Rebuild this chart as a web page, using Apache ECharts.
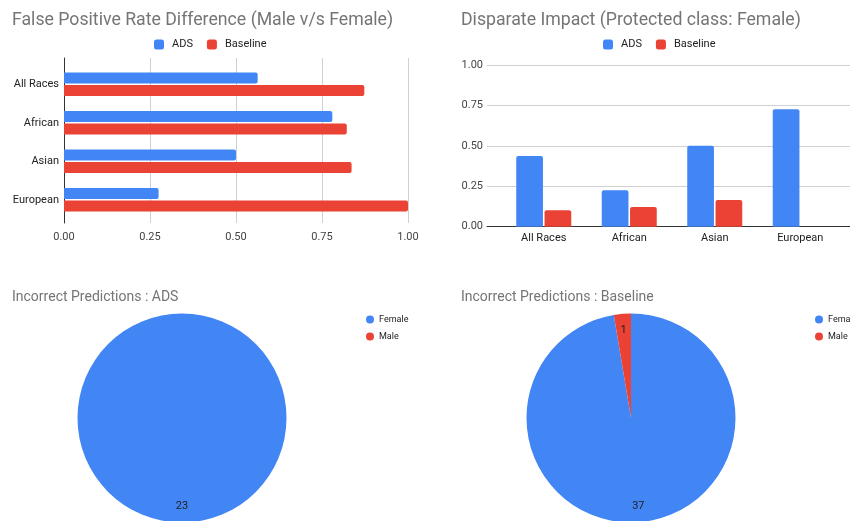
<!DOCTYPE html>
<html>
<head>
<meta charset="utf-8">
<script src="https://cdn.jsdelivr.net/npm/echarts@6/dist/echarts.min.js"></script>
<style>html,body{margin:0;padding:0;background:#fff}#c{width:850px;height:521px}</style>
</head>
<body>
<div id="c"></div>
<script>
const categories = ['All Races', 'African', 'Asian', 'European'];
const fprADS = [0.563, 0.78, 0.5, 0.275];
const fprBaseline = [0.873, 0.822, 0.836, 1.0];
const diADS = [0.437, 0.225, 0.501, 0.726];
const diBaseline = [0.101, 0.122, 0.165, 0];
const pieNames = ['Female', 'Male'];
const adsIncorrect = [23, 0];
const baselineIncorrect = [37, 1];
const valueMin = 0, valueMax = 1, valueStep = 0.25;

const BLUE = '#4285F4', RED = '#EA4335';
const FONT = 'Roboto';
const chart = echarts.init(document.getElementById('c'), null, {renderer: 'canvas'});

const tickLabel = {formatter: v => v.toFixed(2), color: '#444', fontSize: 11, fontFamily: FONT};
const gridLine = {lineStyle: {color: '#d0d0d0', width: 1}};
const darkLine = {show: true, onZero: false, lineStyle: {color: '#333', width: 1}};
const catLabel = {color: '#222', fontSize: 11, fontFamily: FONT};

function pieData(vals) { return pieNames.map((n, i) => ({name: n, value: vals[i]})); }
function pieLabelSeries(vals, cx) {
  return {
    type: 'pie', center: [cx, 418], radius: [66.5, 104.5], startAngle: 90, clockwise: true,
    silent: true, legendHoverLink: false,
    itemStyle: {color: 'rgba(0,0,0,0)'},
    label: {show: true, position: 'inside', color: '#222', fontSize: 11, fontFamily: FONT,
      formatter: p => p.value ? String(p.value) : ''},
    labelLine: {show: false}, emphasis: {disabled: true},
    data: pieData(vals)
  };
}
function pieMain(vals, cx) {
  return {
    type: 'pie', center: [cx, 418], radius: 104.5, startAngle: 90, clockwise: true,
    label: {show: false}, labelLine: {show: false},
    itemStyle: {borderWidth: 0},
    data: pieData(vals)
  };
}
const titleStyle = (size) => ({fontSize: size, fontWeight: 'normal', color: '#757575', fontFamily: FONT});
const barLegend = (left) => ({data: ['ADS', 'Baseline'], left: left, top: 39, padding: 0,
  itemWidth: 10, itemHeight: 10, itemGap: 14, icon: 'roundRect', selectedMode: false,
  textStyle: {fontSize: 11, color: '#222', fontFamily: FONT, padding: [0, 0, 0, 3]}});
const pieLegend = (left) => ({data: pieNames, orient: 'vertical', left: left, top: 315, padding: 0,
  itemWidth: 8, itemHeight: 8, itemGap: 8, icon: 'circle', selectedMode: false,
  textStyle: {fontSize: 9, color: '#222', fontFamily: FONT}});

const option = {
  animation: false,
  color: [BLUE, RED],
  textStyle: {fontFamily: FONT},
  title: [
    {text: 'False Positive Rate Difference (Male v/s Female)', left: 12, top: 12, padding: 0, textStyle: titleStyle(17.7)},
    {text: 'Disparate Impact (Protected class: Female)', left: 461, top: 12, padding: 0, textStyle: titleStyle(17.7)},
    {text: 'Incorrect Predictions : ADS', left: 12, top: 290, padding: 0, textStyle: titleStyle(14)},
    {text: 'Incorrect Predictions : Baseline', left: 461, top: 290, padding: 0, textStyle: titleStyle(14)}
  ],
  legend: [barLegend(154), barLegend(603), pieLegend(366), pieLegend(815)],
  grid: [
    {left: 64, top: 65, width: 344, height: 154},      // 0: FPR bars
    {left: 501, top: 65, right: 7, height: 161.7},     // 1: DI bars
    {left: 64, top: 58, width: 344, height: 165},      // 2: FPR gridlines / axis
    {left: 487, top: 65, right: 0, height: 161.7}      // 3: DI gridlines / axis
  ],
  xAxis: [
    {type: 'value', gridIndex: 0, min: valueMin, max: valueMax, interval: valueStep, show: false},
    {type: 'category', gridIndex: 1, data: categories, axisTick: {show: false}, axisLine: {show: false},
      axisLabel: Object.assign({margin: 6}, catLabel)},
    {type: 'value', gridIndex: 2, min: valueMin, max: valueMax, interval: valueStep,
      axisLine: {show: false}, axisTick: {show: false}, splitLine: gridLine,
      axisLabel: Object.assign({margin: 9}, tickLabel)},
    {type: 'value', gridIndex: 3, min: valueMin, max: valueMax, interval: valueStep,
      axisLine: darkLine, axisTick: {show: false}, splitLine: {show: false}, axisLabel: {show: false}}
  ],
  yAxis: [
    {type: 'category', gridIndex: 0, data: categories, inverse: true, axisTick: {show: false}, axisLine: {show: false},
      axisLabel: Object.assign({margin: 5}, catLabel)},
    {type: 'value', gridIndex: 1, min: valueMin, max: valueMax, interval: valueStep, show: false},
    {type: 'value', gridIndex: 2, min: valueMin, max: valueMax, interval: valueStep,
      axisLine: darkLine, axisTick: {show: false}, splitLine: {show: false}, axisLabel: {show: false}},
    {type: 'value', gridIndex: 3, min: valueMin, max: valueMax, interval: valueStep,
      axisLine: {show: false}, axisTick: {show: false}, splitLine: gridLine,
      axisLabel: Object.assign({margin: 4}, tickLabel)}
  ],
  series: [
    {name: 'ADS', type: 'bar', xAxisIndex: 0, yAxisIndex: 0, data: fprADS, barWidth: 11, barGap: '15%', z: 3,
      itemStyle: {color: BLUE, borderRadius: [0, 2, 2, 0]}},
    {name: 'Baseline', type: 'bar', xAxisIndex: 0, yAxisIndex: 0, data: fprBaseline, barWidth: 11, barGap: '15%', z: 3,
      itemStyle: {color: RED, borderRadius: [0, 2, 2, 0]}},
    {name: 'ADS', type: 'bar', xAxisIndex: 1, yAxisIndex: 1, data: diADS, barWidth: 26.7, barGap: '6%', z: 3,
      itemStyle: {color: BLUE, borderRadius: [2, 2, 0, 0]}},
    {name: 'Baseline', type: 'bar', xAxisIndex: 1, yAxisIndex: 1, data: diBaseline, barWidth: 26.7, barGap: '6%', z: 3,
      itemStyle: {color: RED, borderRadius: [2, 2, 0, 0]}},
    pieMain(adsIncorrect, 182),
    pieLabelSeries(adsIncorrect, 182),
    pieMain(baselineIncorrect, 631),
    pieLabelSeries(baselineIncorrect, 631)
  ]
};
chart.setOption(option);
</script>
</body>
</html>
